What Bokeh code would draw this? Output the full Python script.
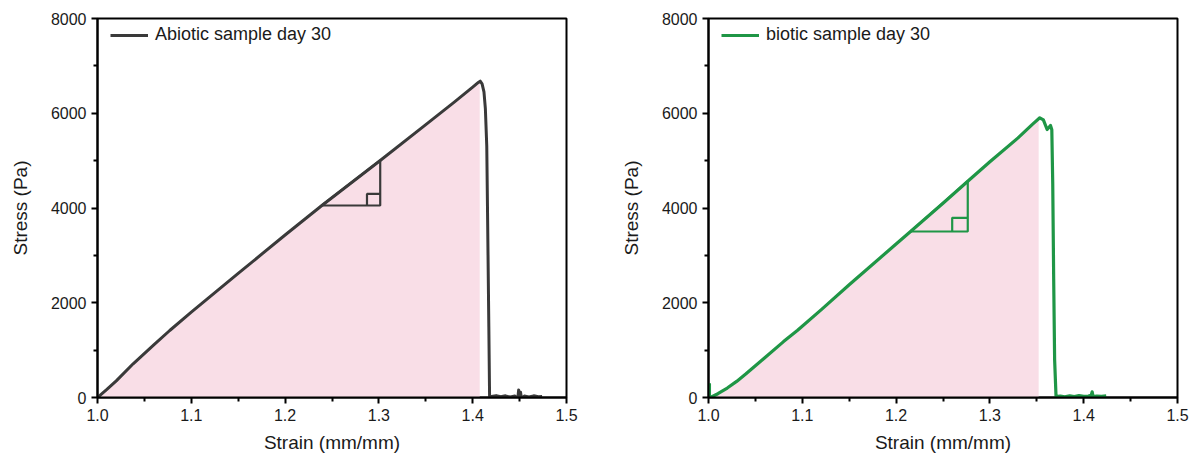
import numpy as np
from bokeh.plotting import figure
from bokeh.layouts import row
from bokeh.models import FixedTicker, NumeralTickFormatter, Legend, LegendItem
from bokeh.embed import file_html
from bokeh.resources import INLINE

# ---------------- data ----------------
# Abiotic sample day 30
abiotic_strain = [1.000, 1.010, 1.020, 1.038, 1.060, 1.077, 1.100, 1.150, 1.200, 1.2392,
                  1.3014, 1.350, 1.380, 1.400, 1.406, 1.408, 1.410, 1.412, 1.4135, 1.415,
                  1.416, 1.4172, 1.418,
                  1.420, 1.425, 1.430, 1.435, 1.440, 1.445, 1.448, 1.449, 1.450, 1.451,
                  1.452, 1.455, 1.460, 1.465, 1.470, 1.474]
abiotic_stress = [0, 170, 350, 711, 1110, 1414, 1800, 2620, 3430, 4053,
                  5003, 5760, 6230, 6550, 6650, 6677, 6620, 6450, 6100, 5300,
                  3595, 1500, 0,
                  20, 40, 15, 35, 10, 30, -40, 160, -100, 110,
                  -20, 30, 10, 35, 15, 20]
abiotic_fill_end = 1.4075
abiotic_tri_x = [1.2392, 1.3014, 1.3014, 1.2392]
abiotic_tri_y = [4053, 4053, 5003, 4053]
abiotic_sq_x = [1.2873, 1.2873, 1.3014]
abiotic_sq_y = [4053, 4298, 4298]

# Biotic sample day 30
biotic_strain = [1.001, 1.001, 1.002, 1.010, 1.020, 1.030, 1.040, 1.060, 1.080, 1.095,
                 1.120, 1.150, 1.200, 1.2154, 1.250, 1.2764, 1.300, 1.330, 1.345, 1.3532,
                 1.357, 1.361, 1.3646, 1.366, 1.367, 1.368, 1.369, 1.3705,
                 1.375, 1.380, 1.385, 1.390, 1.395, 1.400, 1.405, 1.408, 1.409, 1.410,
                 1.414, 1.419, 1.424]
biotic_stress = [300, 0, 0, 80, 200, 340, 500, 840, 1180, 1420,
                 1850, 2380, 3240, 3504, 4100, 4566, 4975, 5480, 5760, 5904,
                 5860, 5657, 5742, 5650, 4500, 2500, 800, 20,
                 30, 15, 35, 20, 40, 25, 30, 45, 120, 20,
                 30, 25, 35]
biotic_fill_end = 1.352
biotic_tri_x = [1.2154, 1.2764, 1.2764, 1.2154]
biotic_tri_y = [3504, 3504, 4566, 3504]
biotic_sq_x = [1.2598, 1.2598, 1.2764]
biotic_sq_y = [3504, 3793, 3793]

x_ticks = [1.0, 1.1, 1.2, 1.3, 1.4, 1.5]
x_minor = [1.05, 1.15, 1.25, 1.35, 1.45]
y_ticks = [0, 2000, 4000, 6000, 8000]
y_minor = [1000, 3000, 5000, 7000]

FONT = "Liberation Sans"
PINK = "#f9dee7"
TEXT = "#1a1a1a"


def make_panel(strain, stress, fill_end, tri_x, tri_y, sq_x, sq_y, color, label,
               left_border, right_border, line_w):
    p = figure(width=600, height=461, x_range=(1.0, 1.5), y_range=(0, 8000),
               output_backend="svg", toolbar_location=None,
               min_border_left=left_border, min_border_right=right_border,
               min_border_top=18, min_border_bottom=64)
    p.grid.visible = False
    p.outline_line_color = "black"
    p.outline_line_width = 2
    p.outline_line_alpha = 1

    s = np.array(strain, dtype=float)
    t = np.array(stress, dtype=float)
    # drop a leading vertical spike (same strain repeated) for the fill
    start = 1 if s[0] == s[1] else 0
    ss, tt = s[start:], t[start:]
    mask = ss <= fill_end
    fx = np.concatenate([ss[mask], [fill_end]])
    fy = np.concatenate([tt[mask], [np.interp(fill_end, ss, tt)]])
    fy = np.clip(fy, 0, None)
    p.varea(x=fx, y1=np.zeros_like(fx), y2=fy, fill_color=PINK)

    r = p.line(s, t, line_color=color, line_width=line_w, line_join="round")
    p.line(tri_x, tri_y, line_color=color, line_width=2.2)
    p.line(sq_x, sq_y, line_color=color, line_width=2.2)

    leg = Legend(items=[LegendItem(label=label, renderers=[r])],
                 location=(13, 352), padding=0, margin=0,
                 glyph_width=38, glyph_height=20, label_height=20,
                 label_standoff=7,
                 label_text_font=FONT, label_text_font_size="18px",
                 label_text_color=TEXT,
                 border_line_color=None, background_fill_alpha=0)
    p.add_layout(leg)

    for ax in (p.xaxis[0], p.yaxis[0]):
        ax.axis_line_width = 2
        ax.axis_line_color = "black"
        ax.major_tick_line_width = 2
        ax.minor_tick_line_width = 2
        ax.major_tick_out = 6
        ax.major_tick_in = 0
        ax.minor_tick_out = 4
        ax.minor_tick_in = 0
        ax.major_label_text_font = FONT
        ax.major_label_text_font_size = "16px"
        ax.major_label_text_color = TEXT
        ax.axis_label_text_font = FONT
        ax.axis_label_text_font_size = "19px"
        ax.axis_label_text_font_style = "normal"
        ax.axis_label_text_color = TEXT
        ax.major_label_standoff = 5

    p.xaxis.ticker = FixedTicker(ticks=x_ticks, minor_ticks=x_minor)
    p.yaxis.ticker = FixedTicker(ticks=y_ticks, minor_ticks=y_minor)
    p.xaxis.formatter = NumeralTickFormatter(format="0.0")
    p.yaxis.formatter = NumeralTickFormatter(format="0")
    p.xaxis.axis_label = "Strain (mm/mm)"
    p.yaxis.axis_label = "Stress (Pa)"
    p.xaxis.axis_label_standoff = 8
    p.yaxis.axis_label_standoff = 17
    return p


p1 = make_panel(abiotic_strain, abiotic_stress, abiotic_fill_end,
                abiotic_tri_x, abiotic_tri_y, abiotic_sq_x, abiotic_sq_y,
                "#3a3a3a", "Abiotic sample day 30", 97, 34, 3)
p2 = make_panel(biotic_strain, biotic_stress, biotic_fill_end,
                biotic_tri_x, biotic_tri_y, biotic_sq_x, biotic_sq_y,
                "#1f9646", "biotic sample day 30", 108, 23, 3.2)

layout = row(p1, p2)
open("out.html", "w").write(file_html(layout, INLINE))
